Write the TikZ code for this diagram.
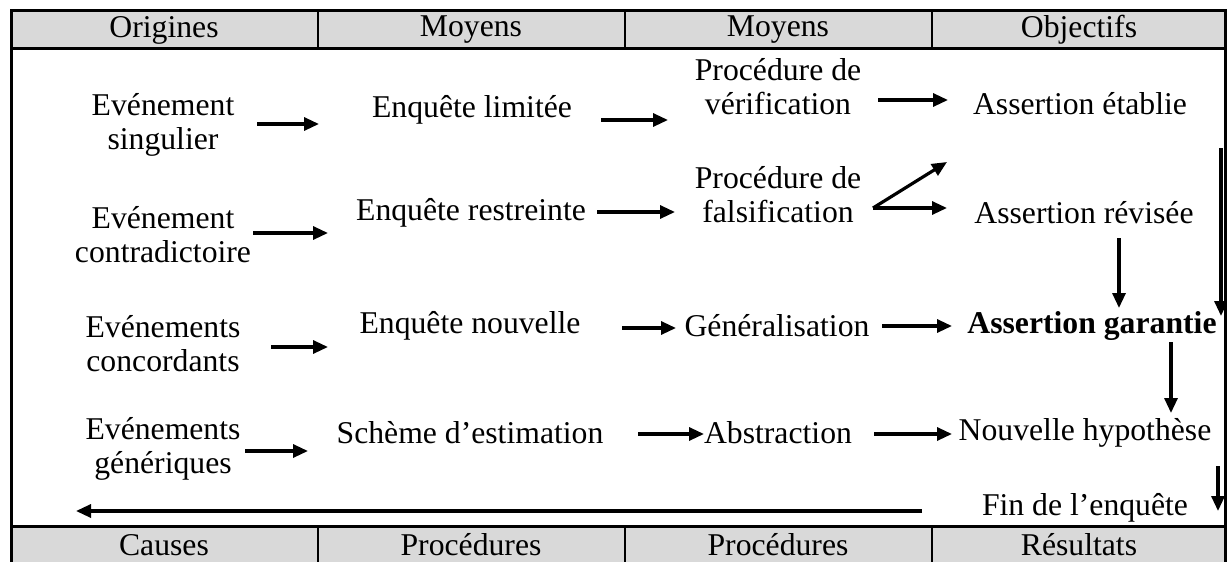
\documentclass[tikz,border=0pt]{standalone}
\usepackage{fontspec}
\setmainfont{Liberation Serif}
\usetikzlibrary{arrows.meta}
\definecolor{hdrgray}{RGB}{217,217,217}
\begin{document}
\begin{tikzpicture}[x=1pt,y=-1pt,
  txt/.style={inner sep=0pt,align=center,font=\fontsize{31.7}{34}\selectfont},
  boldtxt/.style={txt,font=\fontsize{31.7}{34}\selectfont\bfseries},
  frameline/.style={line width=3pt},
  sepline/.style={line width=2pt},
  arr/.style={line width=3.2pt,-{Triangle[length=15pt,width=13pt]}}]
\useasboundingbox (0,0) rectangle (1227,562);
% header and footer fills
\fill[hdrgray] (11,10) rectangle (1225,48);
\fill[hdrgray] (11,526) rectangle (1225,562);
% frame
\draw[frameline] (11,562) -- (11,10) -- (1225,10) -- (1225,562);
\draw[frameline] (11,48) -- (1225,48);
\draw[frameline] (11,526) -- (1225,526);
\foreach \xx in {318,625,932}{
  \draw[sepline] (\xx,10) -- (\xx,48);
  \draw[sepline] (\xx,526) -- (\xx,562);
}
% header texts
\node[txt] (h1) at (164,30) {Origines};
\node[txt] (h2) at (471,30) {Moyens};
\node[txt] (h3) at (778,30) {Moyens};
\node[txt] (h4) at (1079,30) {Objectifs};
% footer texts
\node[txt] (f1) at (164,545) {Causes};
\node[txt] (f2) at (471,545) {Procédures};
\node[txt] (f3) at (778,545) {Procédures};
\node[txt] (f4) at (1079,545) {Résultats};
% row 1
\node[txt] (ev1) at (163,125) {Evénement\\singulier};
\node[txt] (enq1) at (472,110) {Enquête limitée};
\node[txt] (proc1) at (778,87) {Procédure de\\vérification};
\node[txt] (ass1) at (1080,104) {Assertion établie};
% row 2
\node[txt] (ev2) at (163,235) {Evénement\\contradictoire};
\node[txt] (enq2) at (471,213) {Enquête restreinte};
\node[txt] (proc2) at (778,195) {Procédure de\\falsification};
\node[txt] (ass2) at (1084,213) {Assertion révisée};
% row 3
\node[txt] (ev3) at (163,344) {Evénements\\concordants};
\node[txt] (enq3) at (470,326) {Enquête nouvelle};
\node[txt] (gen) at (777,326) {Généralisation};
\node[boldtxt] (ass3) at (1092,326) {Assertion garantie};
% row 4
\node[txt] (ev4) at (163,449) {Evénements\\génériques};
\node[txt] (sch) at (470,433) {Schème d’estimation};
\node[txt] (abs) at (778,433) {Abstraction};
\node[txt] (nouv) at (1085,433) {Nouvelle hypothèse};
\node[txt] (fin) at (1085,508) {Fin de l’enquête};
% arrow end points
\coordinate (a1s) at (257,124); \coordinate (a1e) at (319,124);
\coordinate (a2s) at (601,120); \coordinate (a2e) at (668,120);
\coordinate (a3s) at (878,100); \coordinate (a3e) at (948,100);
\coordinate (b1s) at (253,233); \coordinate (b1e) at (328,233);
\coordinate (b2s) at (597,212); \coordinate (b2e) at (675,212);
\coordinate (b3s) at (873,208); \coordinate (b3u) at (947,162); \coordinate (b3e) at (947,208);
\coordinate (v1s) at (1221,148); \coordinate (v1e) at (1221,316);
\coordinate (v2s) at (1119,238); \coordinate (v2e) at (1119,308);
\coordinate (c1s) at (271,347); \coordinate (c1e) at (328,347);
\coordinate (c2s) at (622,328); \coordinate (c2e) at (676,328);
\coordinate (c3s) at (882,326); \coordinate (c3e) at (952,326);
\coordinate (v3s) at (1171,342); \coordinate (v3e) at (1171,413);
\coordinate (d1s) at (245,451); \coordinate (d1e) at (308,451);
\coordinate (d2s) at (638,434); \coordinate (d2e) at (704,434);
\coordinate (d3s) at (874,434); \coordinate (d3e) at (952,434);
\coordinate (v4s) at (1218,466); \coordinate (v4e) at (1218,511);
\coordinate (ls) at (922,511); \coordinate (le) at (76,511);
% arrows
\draw[arr] (a1s) -- (a1e);
\draw[arr] (a2s) -- (a2e);
\draw[arr] (a3s) -- (a3e);
\draw[arr] (b1s) -- (b1e);
\draw[arr] (b2s) -- (b2e);
\draw[arr] (b3s) -- (b3u);
\draw[arr] (b3s) -- (b3e);
\draw[arr] (v1s) -- (v1e);
\draw[arr] (v2s) -- (v2e);
\draw[arr] (c1s) -- (c1e);
\draw[arr] (c2s) -- (c2e);
\draw[arr] (c3s) -- (c3e);
\draw[arr] (v3s) -- (v3e);
\draw[arr] (d1s) -- (d1e);
\draw[arr] (d2s) -- (d2e);
\draw[arr] (d3s) -- (d3e);
\draw[arr] (v4s) -- (v4e);
\draw[arr] (ls) -- (le);
\end{tikzpicture}
\end{document}
